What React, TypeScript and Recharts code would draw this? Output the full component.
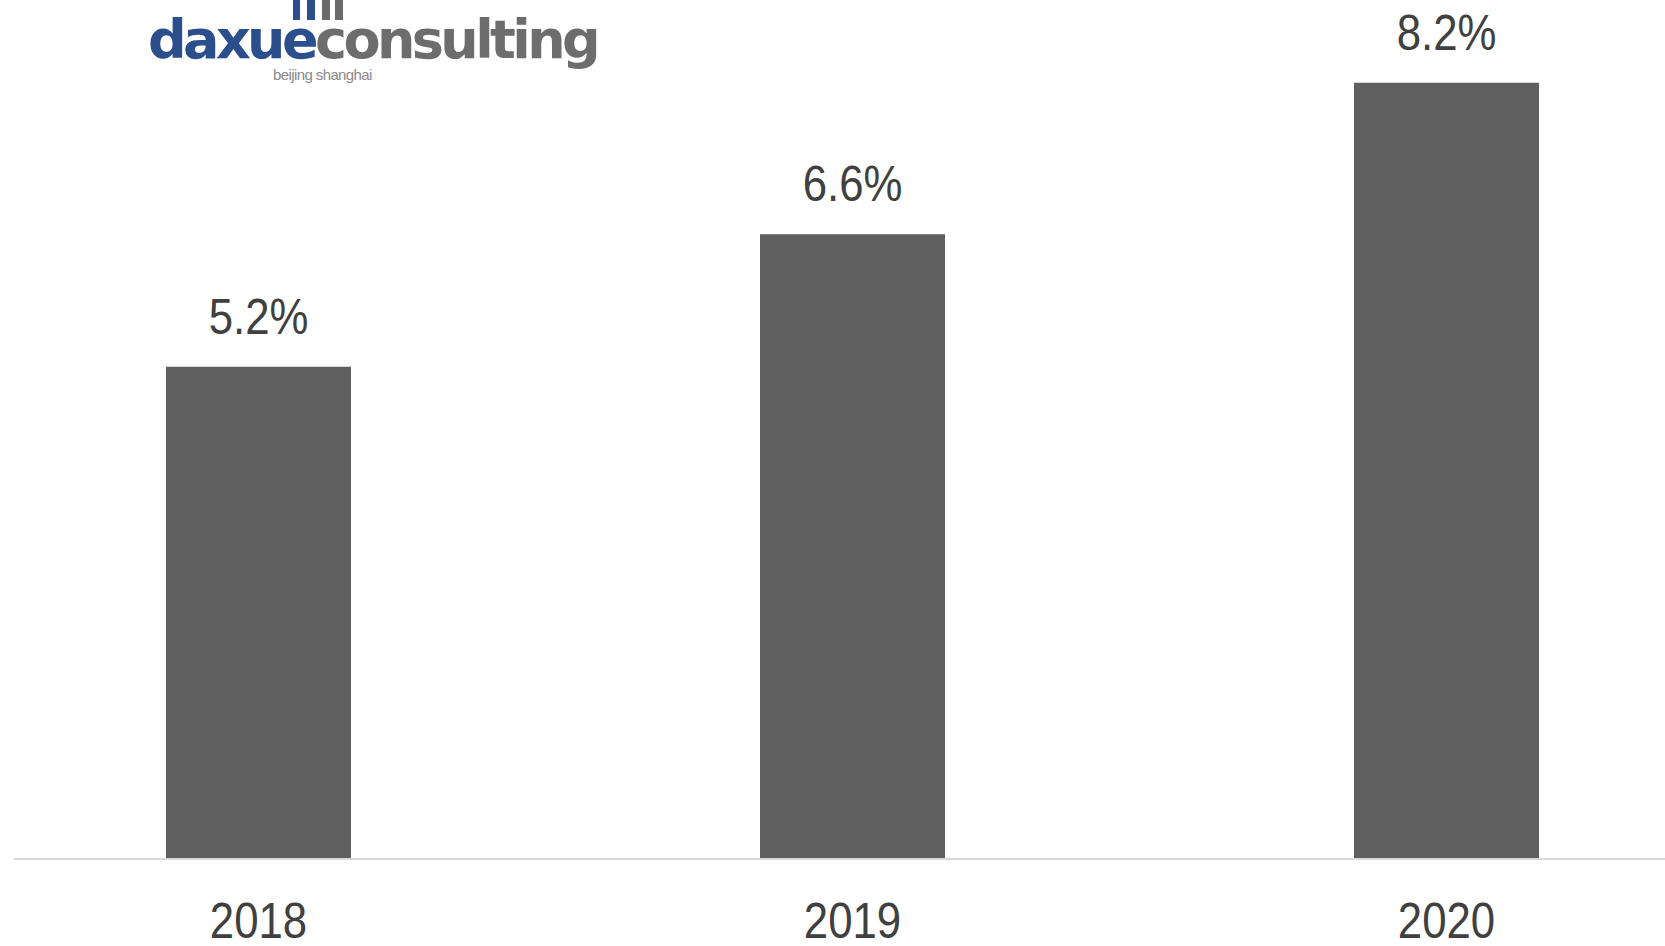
import { BarChart, Bar, XAxis, YAxis, LabelList } from "recharts";

const years = ["2018", "2019", "2020"];
const shares = [5.2, 6.6, 8.2];

const data = years.map((year, i) => ({ year, share: shares[i] }));

const textColor = "#404040";
const font = "'Liberation Sans', Arial, sans-serif";

const renderLabel = (props: any) => {
    const { x, y, width, value } = props;
    const cx = Number(x) + Number(width) / 2;
    return (
        <text
            transform={`translate(${cx},${Number(y) - 33}) scale(0.875,1)`}
            textAnchor="middle"
            fontSize={50}
            fontFamily={font}
            fill={textColor}
        >
            {`${value}%`}
        </text>
    );
};

const renderTick = (props: any) => {
    const { x, y, payload } = props;
    return (
        <text
            transform={`translate(${x},${Number(y) + 71}) scale(0.875,1)`}
            textAnchor="middle"
            fontSize={50}
            fontFamily={font}
            fill={textColor}
        >
            {payload.value}
        </text>
    );
};

function Logo() {
    const bars = [
        { left: 293, width: 7, color: "#2b4f8c" },
        { left: 307, width: 8, color: "#2b4f8c" },
        { left: 322, width: 8, color: "#6a6a6a" },
        { left: 335, width: 8, color: "#6a6a6a" },
    ];
    return (
        <div style={{ position: "absolute", left: 0, top: 0, width: 600, height: 90 }}>
            {bars.map((b, i) => (
                <div
                    key={i}
                    style={{
                        position: "absolute",
                        left: b.left,
                        top: 0,
                        width: b.width,
                        height: 20,
                        background: b.color,
                    }}
                />
            ))}
            <div
                style={{
                    position: "absolute",
                    left: 148,
                    top: 2,
                    fontFamily: "'DejaVu Sans', Arial, sans-serif",
                    fontWeight: 700,
                    fontSize: 54,
                    letterSpacing: -3.6,
                    lineHeight: "76px",
                    whiteSpace: "nowrap",
                }}
            >
                <span style={{ color: "#2b4f8c" }}>daxue</span>
                <span style={{ color: "#6d6d6d" }}>consulting</span>
            </div>
            <div
                style={{
                    position: "absolute",
                    left: 273,
                    top: 66,
                    fontFamily: "'Liberation Sans', Arial, sans-serif",
                    fontSize: 15,
                    color: "#8a8a8a",
                    letterSpacing: -0.6,
                    whiteSpace: "nowrap",
                }}
            >
                beijing shanghai
            </div>
        </div>
    );
}

export default function App() {
    return (
        <div style={{ position: "absolute", left: 0, top: 0, width: 1665, height: 946, background: "#fff" }}>
            <div style={{ position: "absolute", left: 14, top: 0 }}>
                <BarChart
                    width={1651}
                    height={946}
                    data={data}
                    margin={{ top: 7, right: -78.5, left: -52.5, bottom: 57 }}
                    barCategoryGap={204.5}
                >
                    <XAxis
                        dataKey="year"
                        tickLine={false}
                        axisLine={{ stroke: "#d9d9d9", strokeWidth: 2 }}
                        tick={renderTick}
                        height={30}
                        interval={0}
                    />
                    <YAxis hide domain={[0, 9]} />
                    <Bar dataKey="share" fill="#5f5f5f" isAnimationActive={false}>
                        <LabelList dataKey="share" content={renderLabel} />
                    </Bar>
                </BarChart>
            </div>
            <Logo />
        </div>
    );
}
